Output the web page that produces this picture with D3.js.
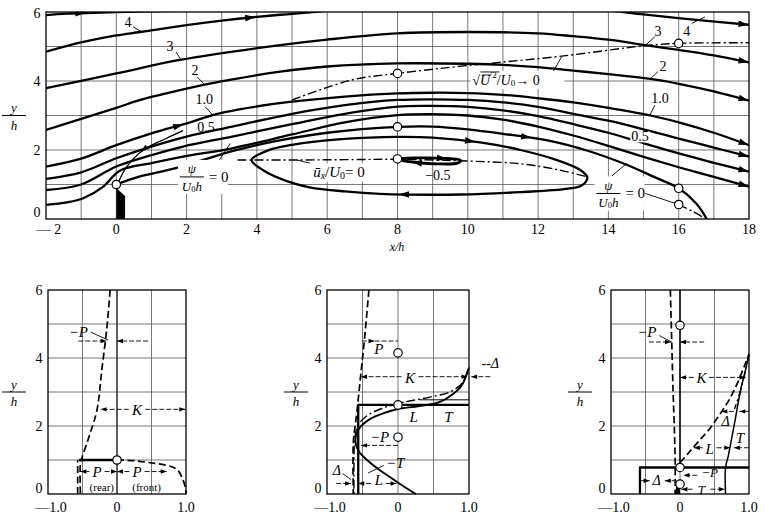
<!DOCTYPE html>
<html><head><meta charset="utf-8">
<script src="https://cdn.jsdelivr.net/npm/d3@7/dist/d3.min.js"></script>
<style>html,body{margin:0;padding:0;background:#fff}svg{display:block}</style>
</head><body>
<svg id="chart" width="765" height="520"></svg>
<script>
// ================= DATA (all in x/h, y/h units) =================
const topXTicks=[-2,0,2,4,6,8,10,12,14,16,18];
const topYTicks=[0,2,4,6];
const topGridX=[-1,0,1,2,3,4,5,6,7,8,9,10,11,12,13,14,15,16,17];
const topGridY=[1,2,3,4,5];

// streamlines  psi/(U0 h)
const psi5=[[-2,5.91],[-1.4,5.95],[0,6.0],[2,6.04]];
const psi4=[[-2,4.85],[-1,5.12],[0,5.32],[0.68,5.42],[2,5.62],[3,5.75],[4.66,5.92],[5.4,5.98],[6.5,6.08],[8,6.18],[10,6.25],[12,6.2],[13.95,6.05],[15,5.93],[16.5,5.77],[18,5.63]];
const psi3=[[-2,3.79],[0,4.22],[1.81,4.61],[4.66,5.04],[6,5.2],[8,5.38],[10,5.42],[12,5.38],[13,5.3],[14,5.2],[15.05,5.04],[16,4.9],[17,4.74],[18,4.54]];
const psi2=[[-2,2.58],[-1,2.9],[0,3.22],[0.68,3.45],[2,3.78],[2.95,3.98],[4.66,4.27],[6,4.42],[8,4.51],[10,4.5],[11,4.47],[12,4.4],[13,4.3],[14,4.2],[15.2,4.06],[16,3.92],[17,3.7],[18,3.43]];
const psi10=[[-2,1.52],[-1,1.75],[0,2.14],[1,2.48],[2.1,2.8],[2.76,3.02],[3.5,3.18],[5,3.4],[6.5,3.55],[8,3.64],[9,3.66],[10,3.65],[11,3.6],[12,3.5],[13,3.38],[14,3.22],[15.2,3.0],[16,2.8],[17,2.5],[18,2.14]];
const psi075=[[-2,1.16],[-1,1.35],[0,1.76],[1,2.1],[2,2.39],[3.3,2.68],[5,3.05],[6.5,3.3],[8,3.45],[9,3.47],[10,3.45],[11,3.38],[12,3.25],[13,3.05],[14,2.85],[15,2.6],[16,2.33],[17,2.07],[18,1.81]];
const psi05=[[-2,0.84],[-1,1.0],[0,1.52],[1,1.85],[1.9,2.1],[3.3,2.39],[5,2.75],[6.5,3.05],[8,3.26],[9,3.28],[10,3.25],[11,3.15],[12,2.98],[13,2.75],[14,2.5],[15,2.2],[16,1.9],[17,1.63],[18,1.37]];
const psi025=[[-2,0.41],[-1.4,0.48],[-0.94,0.6],[-0.37,0.94],[0.1,1.4],[1,1.62],[1.9,1.81],[3.3,2.05],[5,2.45],[6.5,2.8],[8,3.01],[9,3.04],[10,3.0],[11,2.88],[12,2.68],[13,2.42],[14,2.12],[15,1.8],[16,1.5],[17,1.22],[18,0.94]];
const psi0=[[0,1.0],[0.7,1.24],[1.6,1.45],[2.5,1.72],[3.24,1.95],[4.5,2.25],[6,2.5],[8,2.67],[9,2.68],[10,2.6],[11,2.47],[12.3,2.27],[13.5,1.95],[14.5,1.58],[15.3,1.22],[16,0.89],[16.5,0.45],[16.8,0]];
const reverseLine=[[0.05,1.05],[0.3,1.52],[0.77,2.0],[1.43,2.34],[1.9,2.56]];
const bubble=[[3.85,1.71],[4.3,1.98],[5,2.15],[6.5,2.32],[8,2.38],[9,2.36],[10.35,2.22],[11.5,2.0],[12.5,1.72],[13.2,1.42],[13.4,1.2],[13.25,0.98],[12.8,0.87],[11.5,0.78],[9.8,0.71],[7.5,0.73],[6.5,0.8],[5.5,0.92],[4.85,1.1],[4.2,1.4]];
const innerLoop=[[8,1.74],[8.6,1.77],[9.3,1.76],[9.8,1.7],[9.7,1.62],[9.1,1.6],[8.6,1.63],[8.15,1.69]];
const zeroVel=[[3.45,1.71],[5,1.71],[6.5,1.72],[8,1.73],[10,1.68],[11.5,1.6],[12.6,1.42],[13.4,1.22]];
const turbEdge=[[5.0,3.45],[6.7,4.03],[8,4.22],[10,4.45],[12.67,4.72],[15,5.02],[16,5.09],[18,5.11]];
const reattachDash=[[16,0.42],[16.4,0.22],[16.75,0.02]];
const fence=[[0,0],[0,0.9],[0.25,0.67],[0.25,0]];
const topCircles=[[0,1.0],[8,4.22],[8,2.67],[8,1.74],[16,5.09],[16,0.89],[16,0.42]];

const topLabels=[['4',0.33,5.71],['3',1.53,4.99],['2',2.24,4.3],['1.0',2.5,3.45],['0.5',2.55,2.64],
  ['3',15.41,5.43],['4',16.23,5.43],['2',15.55,4.41],['1.0',15.47,3.5],['−0.5',9.15,1.27]];
const topLabelsBoxed=[['0.5',14.9,2.38]];
const topLeaders=[[[0.48,5.57],[0.73,5.42]],[[1.7,4.84],[1.84,4.61]],[[2.3,4.12],[2.5,3.91]],[[2.53,3.25],[2.72,3.04]],
  [[2.81,1.52],[3.24,2.19]],[[15.32,5.28],[15.09,5.07]],[[16.37,5.67],[16.75,5.86]],[[15.41,4.27],[15.18,4.05]],
  [[15.32,3.3],[15.18,3.01]],[[14.1,1.25],[14.52,1.61]],[[12.42,4.26],[12.67,4.7]],[[5.51,1.62],[5.13,1.71]],
  [[15.05,0.74],[16,0.42]]];
const topFractions=[[2.15,1.22],[14.0,0.74]];

// ---------- lower panels ----------
const panelXTicks=[-1,0,1];
const panelYTicks=[0,2,4,6];
const panelGridX=[-0.5,0,0.5];
const panelGridY=[1,2,3,4,5];

// panel 1 : x/h = 0
const p1Axis=[[0,0],[0,6]];
const p1P=[[-0.1,6],[-0.145,4.92],[-0.22,3.65],[-0.29,2.47],[-0.39,1.78],[-0.51,1.05],[-0.53,0.9],[-0.53,0]];
const p1PRear=[[-0.57,0],[-0.57,1.0]];
const p1Front=[[0,1.0],[0.25,0.98],[0.48,0.92],[0.7,0.85],[0.82,0.78],[0.9,0.65],[0.95,0.45],[0.99,0.2],[1.0,0]];
const p1Bar=[[-0.55,1.0],[0,1.0]];
const p1Circles=[[0,1.0]];
const p1Texts=[['−P',-0.56,4.76,15],['K',0.29,2.47,15],['P',-0.29,0.66,15],['P',0.29,0.66,15],['(rear)',-0.22,0.22,11,'n'],['(front)',0.43,0.22,11,'n']];
const p1Dims=[[-0.56,-0.15,4.5],[0.45,0.0,4.5],[0.17,-0.24,2.49],[0.41,0.99,2.49],[-0.4,-0.53,0.66],[-0.18,0.0,0.66],[0.18,0.0,0.66],[0.4,0.72,0.66]];
const p1Leaders=[[[-0.38,4.76],[-0.13,4.53]]];

// panel 2 : x/h = 8
const p2P=[[-0.41,6],[-0.47,4.6],[-0.53,3.4],[-0.58,2.4],[-0.61,1.9],[-0.63,1.5],[-0.63,0]];
const p2Delta=[[1.0,3.72],[0.92,3.3],[0.75,3.02],[0.45,2.85],[0.2,2.75],[0,2.66],[-0.25,2.5],[-0.45,2.28],[-0.57,2.0],[-0.61,1.6],[-0.62,1.0],[-0.62,0]];
const p2T=[[0.99,3.68],[0.9,3.2],[0.78,2.95],[0.6,2.72],[0.35,2.6],[0,2.5],[-0.2,2.38],[-0.39,2.21],[-0.55,1.92],[-0.6,1.55],[-0.55,1.25],[-0.42,0.97],[-0.27,0.72],[-0.1,0.48],[0.06,0.25],[0.25,0]];
const p2Box=[[-0.56,0],[-0.56,2.62],[1.0,2.62]];
const p2Top=[[0.3,2.77],[1.0,2.77]];
const p2Circles=[[0,4.15],[0,2.62],[0,1.67]];
const p2Texts=[['P',-0.27,4.26,15],['K',0.17,3.4,15],['--Δ',1.3,3.83,14],['L',0.22,2.26,15],['T',0.71,2.26,15],['−P',-0.26,1.68,15],['−T',-0.04,0.9,15],['Δ',-0.86,0.7,14],['L',-0.27,0.41,15]];
const p2Dims=[[-0.51,-0.33,4.5],[-0.33,0,4.5,0],[0.05,-0.52,3.45],[0.29,0.98,3.45],[1.3,1.03,3.45],[0.0,-0.52,1.43],[-0.87,-0.66,0.31],[-0.38,-0.56,0.31],[-0.17,-0.02,0.31]];
const p2Leaders=[[[-0.78,0.6],[-0.66,0.42]],[[-0.2,0.84],[-0.42,0.62]]];

// panel 3 : x/h = 16
const p3Axis=[[0,0.8],[0,6]];
const p3P=[[-0.14,6],[-0.12,4.5],[-0.1,3],[-0.08,1.8],[-0.07,0.95],[-0.07,0]];
const p3L=[[0,0.92],[0.12,1.2],[0.27,1.55],[0.43,1.92],[0.58,2.35],[0.72,2.8],[0.84,3.3],[0.94,3.8],[1.0,4.1]];
const p3Delta=[[1.0,4.1],[0.94,3.55],[0.87,3.0],[0.79,2.5]];
const p3T=[[1.0,4.13],[0.95,3.65],[0.89,3.16],[0.84,2.65],[0.8,2.19],[0.75,1.65],[0.7,1.12],[0.66,0.78],[0.66,0]];
const p3Box=[[-0.58,0],[-0.58,0.78],[1.0,0.78]];
const p3Block=[[-0.03,0],[-0.03,0.25]];
const p3Circles=[[0,4.96],[0,0.78],[0,0.29]];
const p3Texts=[['−P',-0.48,4.76,15],['K',0.31,3.4,15],['Δ',0.66,2.14,14],['T',0.87,1.66,15],['L',0.43,1.31,15],['Δ',-0.34,0.39,14],['−P',0.43,0.64,13],['T',0.31,0.12,13]];
const p3Dims=[[-0.45,-0.13,4.47],[0.35,0.0,4.47],[0.2,0.0,3.43],[0.42,0.95,3.43],[0.78,0.6,2.43],[1.0,0.86,2.43],[1.0,0.78,1.36],[0.33,0.2,1.36],[0.53,0.73,1.36],[-0.58,-0.44,0.39],[-0.05,-0.22,0.39],[0.25,0.05,0.55],[0.18,0.02,0.14],[0.44,0.65,0.14]];
const p3Leaders=[[[-0.3,4.66],[-0.12,4.47]]];

// ================= RENDER =================
const svg=d3.select('#chart');
const SERIF="'Liberation Serif','DejaVu Serif','Times New Roman',serif";
const STY={heavy:{w:2.3},solid:{w:1.5},thin:{w:1.0},mid:{w:1.9},dash:{w:1.7,d:'7,3.5'},dashdot:{w:1.4,d:'9,3,2,3'},block:{w:4}};

function drawCurve(g,xs,ys,pts,style,opts={}){
  const s=STY[style];
  const c=opts.linear?d3.curveLinear:(opts.closed?d3.curveCatmullRomClosed.alpha(0.5):d3.curveCatmullRom.alpha(0.5));
  const ln=d3.line().x(d=>xs(d[0])).y(d=>ys(d[1])).curve(c);
  return g.append('path').attr('d',ln(pts)).attr('fill','none').attr('stroke','#000')
   .attr('stroke-width',s.w).attr('stroke-dasharray',s.d||null).attr('stroke-linejoin','round');
}
function arrowOnPath(g,path,frac,len=10,w=3.3,back=false){
  const node=path.node(),L=node.getTotalLength();
  const l=Math.max(0.5,Math.min(L-0.5,L*frac));
  const p=node.getPointAtLength(l),a=node.getPointAtLength(Math.max(0,l-2)),b=node.getPointAtLength(Math.min(L,l+2));
  let ang=Math.atan2(b.y-a.y,b.x-a.x)*180/Math.PI; if(back) ang+=180;
  g.append('path').attr('d',`M0,0L${-len},${-w}L${-len},${w}Z`).attr('fill','#000')
   .attr('transform',`translate(${p.x},${p.y}) rotate(${ang})`);
}
function text(g,x,y,t,size,italic,anchor='middle'){
  return g.append('text').attr('x',x).attr('y',y).attr('font-family',SERIF).attr('font-size',size)
   .attr('font-style',italic?'italic':'normal').attr('text-anchor',anchor).attr('dominant-baseline','central').text(t);
}
function frac(g,cx,cy,num,den,size=13){
  text(g,cx,cy-8,num,size,true);
  g.append('line').attr('x1',cx-12).attr('x2',cx+12).attr('y1',cy).attr('y2',cy).attr('stroke','#000').attr('stroke-width',1);
  const t=g.append('text').attr('x',cx).attr('y',cy+9).attr('font-family',SERIF).attr('font-size',size).attr('font-style','italic')
    .attr('text-anchor','middle').attr('dominant-baseline','central');
  t.append('tspan').text(den[0]);
  if(den[1]){t.append('tspan').attr('font-size',size*0.65).attr('font-style','normal').attr('dy',3).text(den[1]);
    t.append('tspan').attr('dy',-3).text(den[2]);}
}

// ---------- top panel ----------
const xT=d3.scaleLinear([-2,18],[46,749]);
const yT=d3.scaleLinear([0,6],[219,12]);
const gT=svg.append('g');
svg.append('clipPath').attr('id','clipT').append('rect').attr('x',xT(-2)).attr('y',yT(6)).attr('width',xT(18)-xT(-2)).attr('height',yT(0)-yT(6));
gT.selectAll('.gx').data(topGridX).join('line').attr('x1',d=>xT(d)).attr('x2',d=>xT(d)).attr('y1',yT(0)).attr('y2',yT(6)).attr('stroke','#555').attr('stroke-width',0.8);
gT.selectAll('.gy').data(topGridY).join('line').attr('x1',xT(-2)).attr('x2',xT(18)).attr('y1',d=>yT(d)).attr('y2',d=>yT(d)).attr('stroke','#555').attr('stroke-width',0.8);

const gC=gT.append('g').attr('clip-path','url(#clipT)');
const pth={};
[['psi5',psi5],['psi4',psi4],['psi3',psi3],['psi2',psi2],['psi10',psi10],['psi075',psi075],['psi05',psi05],['psi025',psi025],['psi0',psi0]]
 .forEach(([k,p])=>{pth[k]=drawCurve(gC,xT,yT,p,'heavy');});
pth.bubble=drawCurve(gC,xT,yT,bubble,'heavy',{closed:true});
pth.inner=drawCurve(gC,xT,yT,innerLoop,'block',{closed:true}).attr('stroke-width',2.8);
pth.rev=drawCurve(gC,xT,yT,reverseLine,'thin').attr('stroke-width',1.3);
drawCurve(gC,xT,yT,zeroVel,'dashdot');
drawCurve(gC,xT,yT,turbEdge,'dashdot');
drawCurve(gC,xT,yT,reattachDash,'dashdot');
gC.append('path').attr('d',d3.line().x(d=>xT(d[0])).y(d=>yT(d[1]))(fence)+'Z').attr('fill','#000');

// arrows
[['psi5',0.28],['psi4',0.3],['psi4',1],['psi3',1],['psi2',1],['psi10',0.2],['psi10',1],['psi075',1],['psi05',1],['psi025',1],['psi0',0.68],['bubble',0.3],['bubble',0.75],['inner',0.22],['inner',0.72]]
 .forEach(([k,f])=>arrowOnPath(gC,pth[k],f));
arrowOnPath(gC,pth.rev,0.45,8,2.8,true);

// frame
gT.append('rect').attr('x',xT(-2)).attr('y',yT(6)).attr('width',xT(18)-xT(-2)).attr('height',yT(0)-yT(6)).attr('fill','none').attr('stroke','#000').attr('stroke-width',1.3);

// leaders
topLeaders.forEach(l=>gT.append('line').attr('x1',xT(l[0][0])).attr('y1',yT(l[0][1])).attr('x2',xT(l[1][0])).attr('y2',yT(l[1][1])).attr('stroke','#000').attr('stroke-width',0.9));
topLabels.forEach(([t,x,y])=>text(gT,xT(x),yT(y),t,14,false));
topLabelsBoxed.forEach(([t,x,y])=>{const tt=text(gT,xT(x),yT(y),t,14,false);const b=tt.node().getBBox();
  gT.insert('rect',()=>tt.node()).attr('x',b.x-1).attr('y',b.y+2).attr('width',b.width+2).attr('height',b.height-4).attr('fill','#fff');});
// fraction labels  psi/(U0 h) = 0
topFractions.forEach(([x,y])=>{const cx=xT(x),cy=yT(y);
  gT.append('rect').attr('x',cx-14).attr('y',cy-17).attr('width',50).attr('height',34).attr('fill','#fff');
  frac(gT,cx,cy,'ψ',['U','0','h']); text(gT,cx+17,cy,'= 0',15,false,'start');});
// sqrt(U'^2)/U0 -> 0
(function(){const x0=xT(10.13),y0=yT(4.03);
  gT.append('rect').attr('x',x0-2).attr('y',y0-9).attr('width',94).attr('height',18).attr('fill','#fff');
  const t=gT.append('text').attr('x',x0).attr('y',y0).attr('font-family',SERIF).attr('font-size',14).attr('dominant-baseline','central');
  t.append('tspan').text('√');t.append('tspan').attr('font-style','italic').text('U');t.append('tspan').attr('font-size',9).attr('dy',-5).text('′2');
  t.append('tspan').attr('dy',5).text('/');t.append('tspan').attr('font-style','italic').text('U');
  t.append('tspan').attr('font-size',9).attr('dy',3).text('0');t.append('tspan').attr('dy',-3).text('→ 0');
  gT.append('line').attr('x1',x0+8).attr('x2',x0+27).attr('y1',y0-8).attr('y2',y0-8).attr('stroke','#000').attr('stroke-width',0.9);
  gT.append('line').attr('x1',x0+10).attr('x2',x0+19).attr('y1',y0-5).attr('y2',y0-5).attr('stroke','#000').attr('stroke-width',0.8);
})();
// u_x/U0 = 0
(function(){const x0=xT(5.6),y0=yT(1.35);
  gT.append('rect').attr('x',x0-2).attr('y',y0-9).attr('width',70).attr('height',18).attr('fill','#fff');
  const t=gT.append('text').attr('x',x0).attr('y',y0).attr('font-family',SERIF).attr('font-size',15).attr('dominant-baseline','central');
  t.append('tspan').attr('font-style','italic').text('ū');t.append('tspan').attr('font-size',10).attr('font-style','italic').attr('dy',3).text('x');
  t.append('tspan').attr('dy',-3).text('/');t.append('tspan').attr('font-style','italic').text('U');
  t.append('tspan').attr('font-size',10).attr('dy',3).text('0');t.append('tspan').attr('dy',-3).text('= 0');
})();

// circles
gT.selectAll('.c').data(topCircles).join('circle').attr('cx',d=>xT(d[0])).attr('cy',d=>yT(d[1])).attr('r',4.2).attr('fill','#fff').attr('stroke','#000').attr('stroke-width',1.2);

// ticks
topXTicks.forEach(v=>text(gT,xT(v)+(v<0?3:0),229.5,v<0?'— '+(-v):String(v),14,false));
topYTicks.forEach(v=>text(gT,37,yT(v)-(v===0?7:0)+(v===6?1:0),String(v),14,false));
text(gT,397,247,'x/h',12,true);
frac(gT,14,yT(3),'y',['h'],13);

// ---------- lower panels ----------
function panel(xr,yh,cfg){
  const xs=d3.scaleLinear([-1,1],xr), ys=d3.scaleLinear([0,6],[494,290]);
  const g=svg.append('g');
  g.selectAll('.gx').data(panelGridX).join('line').attr('x1',d=>xs(d)).attr('x2',d=>xs(d)).attr('y1',ys(0)).attr('y2',ys(6)).attr('stroke','#555').attr('stroke-width',0.8);
  g.selectAll('.gy').data(panelGridY).join('line').attr('x1',xs(-1)).attr('x2',xs(1)).attr('y1',d=>ys(d)).attr('y2',d=>ys(d)).attr('stroke','#555').attr('stroke-width',0.8);
  cfg.curves.forEach(([pts,st,lin])=>drawCurve(g,xs,ys,pts,st,{linear:lin}));
  g.append('rect').attr('x',xs(-1)).attr('y',ys(6)).attr('width',xs(1)-xs(-1)).attr('height',ys(0)-ys(6)).attr('fill','none').attr('stroke','#000').attr('stroke-width',1.3);
  cfg.leaders.forEach(l=>g.append('line').attr('x1',xs(l[0][0])).attr('y1',ys(l[0][1])).attr('x2',xs(l[1][0])).attr('y2',ys(l[1][1])).attr('stroke','#000').attr('stroke-width',0.9));
  cfg.dims.forEach(([a,b,y,h])=>{
    g.append('line').attr('x1',xs(a)).attr('x2',xs(b)).attr('y1',ys(y)).attr('y2',ys(y)).attr('stroke','#000').attr('stroke-width',0.9).attr('stroke-dasharray','5,2');
    if(h!==0){const dir=b>a?0:180;
      g.append('path').attr('d','M0,0L-6,-2.2L-6,2.2Z').attr('fill','#000').attr('transform',`translate(${xs(b)},${ys(y)}) rotate(${dir})`);}
  });
  cfg.texts.forEach(([t,x,y,s,n])=>{text(g,xs(x),ys(y),t,s,n!=='n');});
  g.selectAll('.c').data(cfg.circles).join('circle').attr('cx',d=>xs(d[0])).attr('cy',d=>ys(d[1])).attr('r',4.2).attr('fill','#fff').attr('stroke','#000').attr('stroke-width',1.2);
  panelXTicks.forEach(v=>text(g,xs(v)+(v<0?3:0),507,v<0?'—1.0':(v===0?'0':'1.0'),14,false));
  panelYTicks.forEach(v=>text(g,xs(-1)-9,ys(v)-(v===0?6:0),String(v),14,false));
  frac(g,yh,ys(3),'y',['h'],13);
}
panel([48,186],14,{curves:[[p1Axis,'thin',true],[p1P,'dash'],[p1PRear,'dash',true],[p1Front,'dash'],[p1Bar,'heavy',true]],
  circles:p1Circles,texts:p1Texts,dims:p1Dims,leaders:p1Leaders});
panel([327,469],296,{curves:[[p2P,'dash'],[p2Delta,'dashdot'],[p2T,'mid'],[p2Box,'heavy',true],[p2Top,'thin',true]],
  circles:p2Circles,texts:p2Texts,dims:p2Dims,leaders:p2Leaders});
panel([611,749],580,{curves:[[p3Axis,'solid',true],[p3P,'dash'],[p3L,'dash'],[p3Delta,'dashdot'],[p3T,'solid'],[p3Box,'heavy',true],[p3Block,'block',true]],
  circles:p3Circles,texts:p3Texts,dims:p3Dims,leaders:p3Leaders});
</script>
</body></html>
